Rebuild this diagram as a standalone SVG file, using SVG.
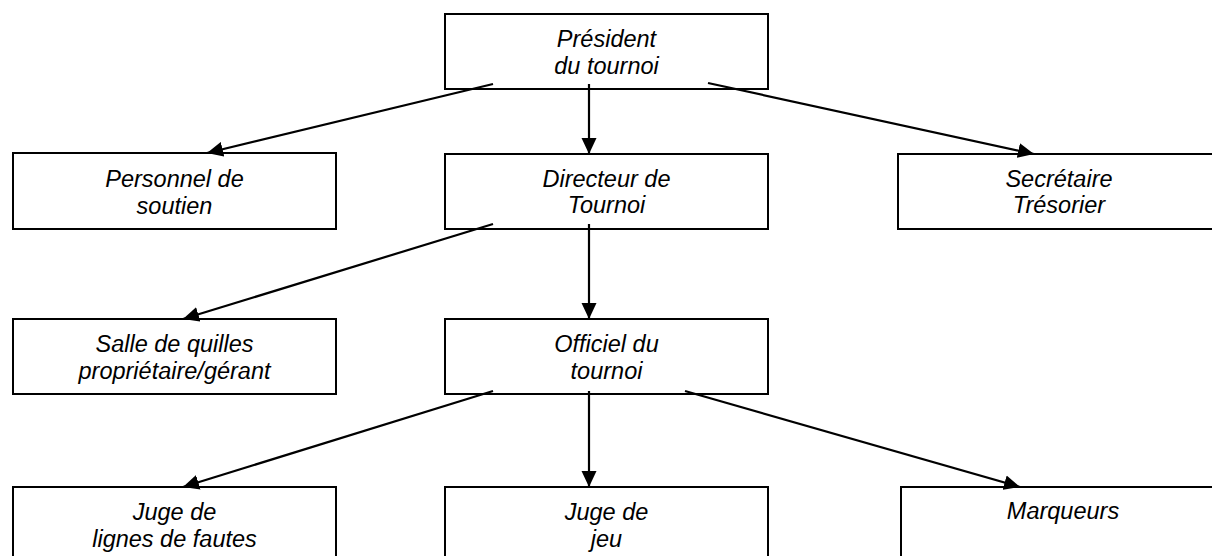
<svg xmlns="http://www.w3.org/2000/svg" width="1212" height="556" viewBox="0 0 1212 556">
<style>
.box{fill:#fff;stroke:#000;stroke-width:2}
.lbl{font-family:"Liberation Sans",Arial,sans-serif;font-style:italic;font-size:23.5px;fill:#000;text-anchor:middle}
.con{stroke:#000;stroke-width:2.2;fill:none;marker-end:url(#ah)}
</style>
<defs>
<marker id="ah" markerUnits="userSpaceOnUse" markerWidth="17" markerHeight="16" refX="16" refY="8" orient="auto">
<path d="M0,0.5 L16,8 L0,15.5 z" fill="#000"/>
</marker>
</defs>
<rect width="1212" height="556" fill="#fff"/>
<g id="president"><rect class="box" x="445" y="14" width="323" height="75"/><text class="lbl" x="606.5" y="47">Président</text><text class="lbl" x="606.5" y="74">du tournoi</text></g>
<g id="personnel"><rect class="box" x="13" y="153" width="323" height="76"/><text class="lbl" x="174.5" y="187">Personnel de</text><text class="lbl" x="174.5" y="214">soutien</text></g>
<g id="directeur"><rect class="box" x="445" y="154" width="323" height="75"/><text class="lbl" x="606.5" y="187">Directeur de</text><text class="lbl" x="606.5" y="213">Tournoi</text></g>
<g id="secretaire"><rect class="box" x="898" y="154" width="330" height="75"/><text class="lbl" x="1059" y="187">Secrétaire</text><text class="lbl" x="1059" y="213">Trésorier</text></g>
<g id="salle"><rect class="box" x="13" y="319" width="323" height="75"/><text class="lbl" x="174.5" y="352">Salle de quilles</text><text class="lbl" x="174.5" y="379">propriétaire/gérant</text></g>
<g id="officiel"><rect class="box" x="445" y="319" width="323" height="75"/><text class="lbl" x="606.5" y="352">Officiel du</text><text class="lbl" x="606.5" y="379">tournoi</text></g>
<g id="juge-lignes"><rect class="box" x="13" y="487" width="323" height="80"/><text class="lbl" x="174.5" y="520">Juge de</text><text class="lbl" x="174.5" y="547">lignes de fautes</text></g>
<g id="juge-jeu"><rect class="box" x="445" y="487" width="323" height="80"/><text class="lbl" x="606.5" y="520">Juge de</text><text class="lbl" x="606.5" y="547">jeu</text></g>
<g id="marqueurs"><rect class="box" x="901" y="487" width="330" height="80"/><text class="lbl" x="1063" y="519">Marqueurs</text></g>
<g id="connectors">
<line class="con" x1="493" y1="84" x2="207" y2="153"/>
<line class="con" x1="589" y1="84" x2="589" y2="154"/>
<line class="con" x1="708" y1="83" x2="1034" y2="154"/>
<line class="con" x1="493" y1="224" x2="183" y2="319"/>
<line class="con" x1="589" y1="224" x2="589" y2="319"/>
<line class="con" x1="493" y1="391" x2="183" y2="487"/>
<line class="con" x1="589" y1="391" x2="589" y2="487"/>
<line class="con" x1="685" y1="391" x2="1020" y2="487"/>
</g>
</svg>
